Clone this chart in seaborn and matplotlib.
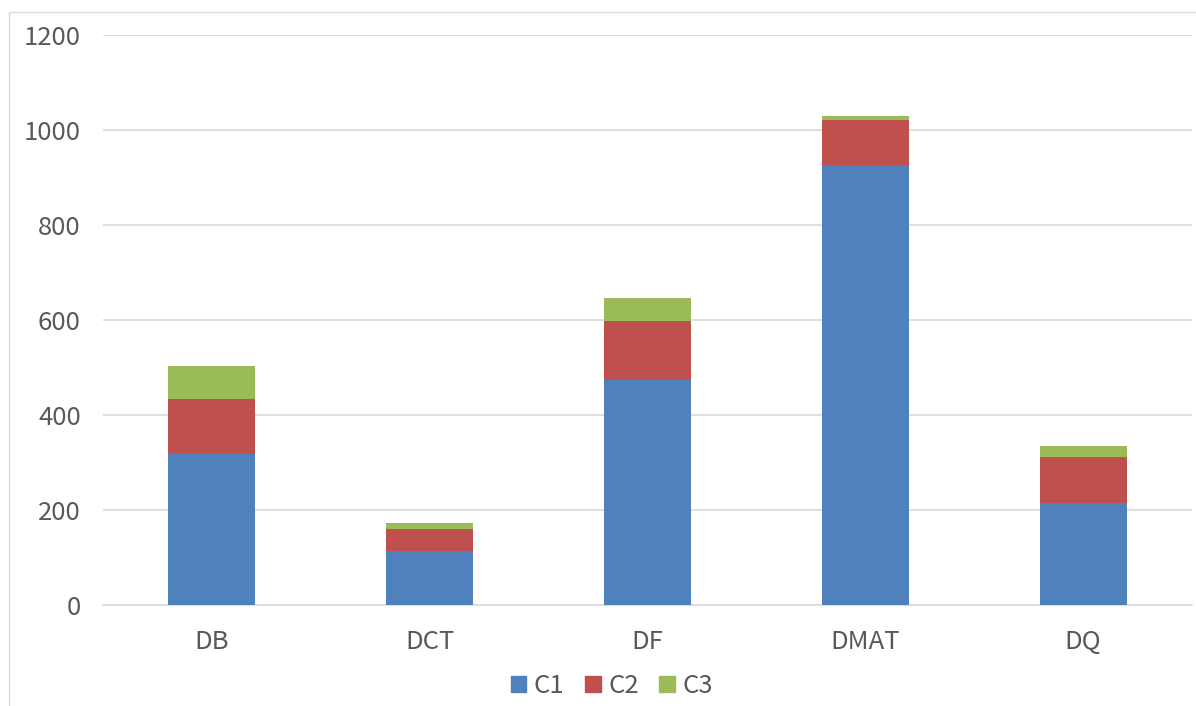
import matplotlib
matplotlib.use('Agg')
import matplotlib.pyplot as plt
from matplotlib.patches import Rectangle
import seaborn as sns
import numpy as np
import pandas as pd

# data
categories = ['DB', 'DCT', 'DF', 'DMAT', 'DQ']
c1 = [318, 114, 474, 924, 215]
c2 = [116, 46, 124, 97, 97]
c3 = [69, 13, 48, 8, 23]
series_names = ['C1', 'C2', 'C3']
colors = ['#4F81BD', '#C0504D', '#9BBB59']
yticks = [0, 200, 400, 600, 800, 1000, 1200]

df = pd.DataFrame({'cat': categories, 'C1': c1, 'C2': c2, 'C3': c3})
df['cum1'] = df['C1']
df['cum2'] = df['C1'] + df['C2']
df['cum3'] = df['cum2'] + df['C3']

sns.set_theme(style='white')
plt.rcParams['font.family'] = ['Noto Sans CJK JP', 'DejaVu Sans']

fig = plt.figure(figsize=(11.96, 7.06), dpi=100)
ax = fig.add_axes([103 / 1196, 1 - 605 / 706, (1192 - 103) / 1196, 570 / 706])

# stacked bars drawn as overlaid cumulative totals, top layer first
for col, color in zip(['cum3', 'cum2', 'cum1'], colors[::-1]):
    sns.barplot(data=df, x='cat', y=col, color=color, width=0.4,
                saturation=1, linewidth=0, ax=ax, zorder=3)

ax.set_ylim(0, 1200)
ax.set_yticks(yticks)
ax.set_xlim(-0.5, len(categories) - 0.5)
ax.grid(axis='y', color='#D9D9D9', linewidth=1.2, zorder=0)
ax.set_axisbelow(True)
for s in ['top', 'right', 'left']:
    ax.spines[s].set_visible(False)
ax.spines['bottom'].set_color('#D9D9D9')
ax.spines['bottom'].set_linewidth(1.2)
ax.set_xlabel('')
ax.set_ylabel('')
ax.tick_params(axis='both', length=0, labelsize=18.5, labelcolor='#595959')
ax.tick_params(axis='y', pad=16)
ax.tick_params(axis='x', pad=17)

handles = [Rectangle((0, 0), 1, 1, color=c) for c in colors]
fig.legend(handles, series_names, loc='center', bbox_to_anchor=(612 / 1196, 1 - 686 / 706),
           ncol=3, frameon=False, fontsize=18.5, handlelength=0.6, handleheight=0.6,
           handletextpad=0.3, columnspacing=0.8, labelcolor='#595959')

# light border of the chart area
fig.patches.append(Rectangle((9 / 1196, -0.1), 1.2, 1.1 - 12 / 706,
                             transform=fig.transFigure, fill=False,
                             edgecolor='#D9D9D9', linewidth=1))

fig.savefig('out.png', dpi=100)
